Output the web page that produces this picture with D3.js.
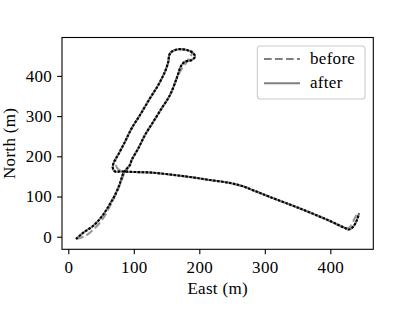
<!DOCTYPE html>
<html>
<head>
<meta charset="utf-8">
<script src="https://cdn.jsdelivr.net/npm/d3@7"></script>
<style>
  body { margin: 0; background: #fff; }
  text { font-family: "Liberation Serif", "Times New Roman", serif; letter-spacing: 0.3px; }
</style>
</head>
<body>
<svg id="chart" width="415" height="312"></svg>
<script>
// trajectory, metres
const afterEast = [11.8, 22.9, 38.2, 51.0, 61.1, 71.3, 78.9, 84.0, 88.9, 94.2,
  96.8, 106.9, 117.1, 129.8, 142.6, 155.3, 165.5, 170.5, 173.1, 178.2,
  188.4, 193.4, 190.8, 180.8, 167.9, 157.9, 154.2, 152.7, 147.6, 137.4,
  124.7, 109.5, 96.8, 86.6, 75.9, 69.8, 67.8, 71.3, 78.9, 86.6,
  101.8, 124.7, 155.3, 185.8, 216.3, 246.9, 265.2, 285.0, 307.9, 353.7,
  399.5, 422.4, 428.5, 434.6, 440.0, 443.8];
const afterNorth = [-5.7, 10.0, 27.4, 49.8, 74.6, 103.7, 132.8, 157.7, 168.4, 178.4,
  190.8, 219.9, 253.0, 286.1, 319.4, 352.5, 394.0, 418.9, 427.1, 435.3,
  439.6, 447.8, 456.2, 464.4, 466.2, 460.2, 452.0, 435.3, 410.5, 377.4,
  344.3, 302.7, 269.7, 236.3, 203.2, 185.8, 172.1, 162.2, 162.2, 162.2,
  160.9, 159.7, 154.7, 148.5, 141.0, 133.6, 126.1, 113.7, 98.8, 70.2,
  39.1, 21.6, 17.9, 24.1, 39.1, 57.7];

const beforeEast = [11.8, 27.0, 42.3, 54.5, 63.7, 72.8, 80.5, 85.8, 90.4, 94.2,
  96.8, 106.9, 117.1, 129.8, 142.6, 155.3, 165.5, 172.1, 179.7, 185.8,
  189.6, 180.8, 167.9, 157.9, 154.2, 152.7, 147.6, 137.4, 124.7, 109.5,
  96.8, 86.6, 77.4, 72.8, 72.1, 75.9, 83.5,
  101.8, 124.7, 155.3, 185.8, 216.3, 246.9, 265.2, 285.0, 307.9, 353.7,
  399.5, 422.4, 429.3, 434.6, 439.2, 443.8];
const beforeNorth = [-5.7, 3.0, 24.1, 49.0, 76.4, 106.2, 136.1, 158.5, 169.7, 180.8,
  190.8, 219.9, 253.0, 286.1, 319.4, 352.5, 394.0, 414.7, 432.1, 447.0,
  459.5, 464.4, 466.2, 460.2, 452.0, 435.3, 410.5, 377.4, 344.3, 302.7,
  269.7, 236.3, 208.2, 195.8, 180.8, 168.4, 162.2,
  160.9, 159.7, 154.7, 148.5, 141.0, 133.6, 126.1, 113.7, 98.8, 70.2,
  39.1, 21.6, 22.9, 36.6, 51.5, 57.7];

const xDomain = [-9.6, 465.6];
const yDomain = [-31.3, 495.5];
const xTicks = [0, 100, 200, 300, 400];
const yTicks = [0, 100, 200, 300, 400];
const legendItems = ['before', 'after'];

const plotLeft = 62, plotRight = 373.3, plotTop = 37.5, plotBottom = 249.3;
const fontSize = 17;
const grey = '#808080';

const svg = d3.select('#chart');

const x = d3.scaleLinear().domain(xDomain).range([plotLeft, plotRight]);
const y = d3.scaleLinear().domain(yDomain).range([plotBottom, plotTop]);

svg.append('clipPath').attr('id', 'plot-clip')
  .append('rect')
  .attr('x', plotLeft).attr('y', plotTop)
  .attr('width', plotRight - plotLeft).attr('height', plotBottom - plotTop);

const line = d3.line()
  .x(d => x(d[0]))
  .y(d => y(d[1]))
  .curve(d3.curveCatmullRom.alpha(0.5));

const before = beforeEast.map((e, i) => [e, beforeNorth[i]]);
const after = afterEast.map((e, i) => [e, afterNorth[i]]);

const plot = svg.append('g').attr('clip-path', 'url(#plot-clip)');

plot.append('path')
  .attr('d', line(before))
  .attr('fill', 'none')
  .attr('stroke', '#999')
  .attr('stroke-width', 2.1)
  .attr('stroke-dasharray', '7.7,3.3');

plot.append('path')
  .attr('d', line(after))
  .attr('fill', 'none')
  .attr('stroke', grey)
  .attr('stroke-width', 2.1);

// dotted black overlay
plot.append('path')
  .attr('d', line(after))
  .attr('fill', 'none')
  .attr('stroke', '#000')
  .attr('stroke-width', 2.1)
  .attr('stroke-dasharray', '2.4,1.6');

// axes
const xAxis = d3.axisBottom(x).tickValues(xTicks).tickSize(4.9).tickPadding(6.4).tickSizeOuter(0);
const yAxis = d3.axisLeft(y).tickValues(yTicks).tickSize(4.9).tickPadding(5).tickSizeOuter(0);

const gx = svg.append('g').attr('transform', `translate(0,${plotBottom})`).call(xAxis);
const gy = svg.append('g').attr('transform', `translate(${plotLeft},0)`).call(yAxis);
[gx, gy].forEach(g => {
  g.select('.domain').remove();
  g.selectAll('line').attr('stroke', '#000').attr('stroke-width', 1.1);
  g.selectAll('text')
    .attr('fill', '#000')
    .style('font-family', '"Liberation Serif", serif')
    .style('font-size', `${fontSize}px`);
});

svg.append('rect')
  .attr('x', plotLeft).attr('y', plotTop)
  .attr('width', plotRight - plotLeft).attr('height', plotBottom - plotTop)
  .attr('fill', 'none')
  .attr('stroke', '#000')
  .attr('stroke-width', 1.1);

svg.append('text')
  .attr('x', (plotLeft + plotRight) / 2)
  .attr('y', 293.5)
  .attr('text-anchor', 'middle')
  .style('font-size', `${fontSize}px`)
  .text('East (m)');

svg.append('text')
  .attr('transform', `translate(15,${(plotTop + plotBottom) / 2}) rotate(-90)`)
  .attr('text-anchor', 'middle')
  .style('font-size', `${fontSize}px`)
  .text('North (m)');

// legend
const legend = svg.append('g');
legend.append('rect')
  .attr('x', 257.3).attr('y', 46)
  .attr('width', 107.7).attr('height', 53)
  .attr('rx', 3)
  .attr('fill', '#fff').attr('fill-opacity', 0.8)
  .attr('stroke', '#ccc').attr('stroke-width', 1.1);

const rows = legend.selectAll('g.row')
  .data(legendItems)
  .join('g')
  .attr('class', 'row')
  .attr('transform', (d, i) => `translate(0,${59 + i * 24.3})`);

rows.append('line')
  .attr('x1', 264).attr('x2', 300)
  .attr('stroke', grey)
  .attr('stroke-width', 2.1)
  .attr('stroke-dasharray', d => d === 'before' ? '7.7,3.3' : null);

rows.append('text')
  .attr('x', 310)
  .attr('dy', '0.3em')
  .style('font-size', `${fontSize}px`)
  .text(d => d);
</script>
</body>
</html>
